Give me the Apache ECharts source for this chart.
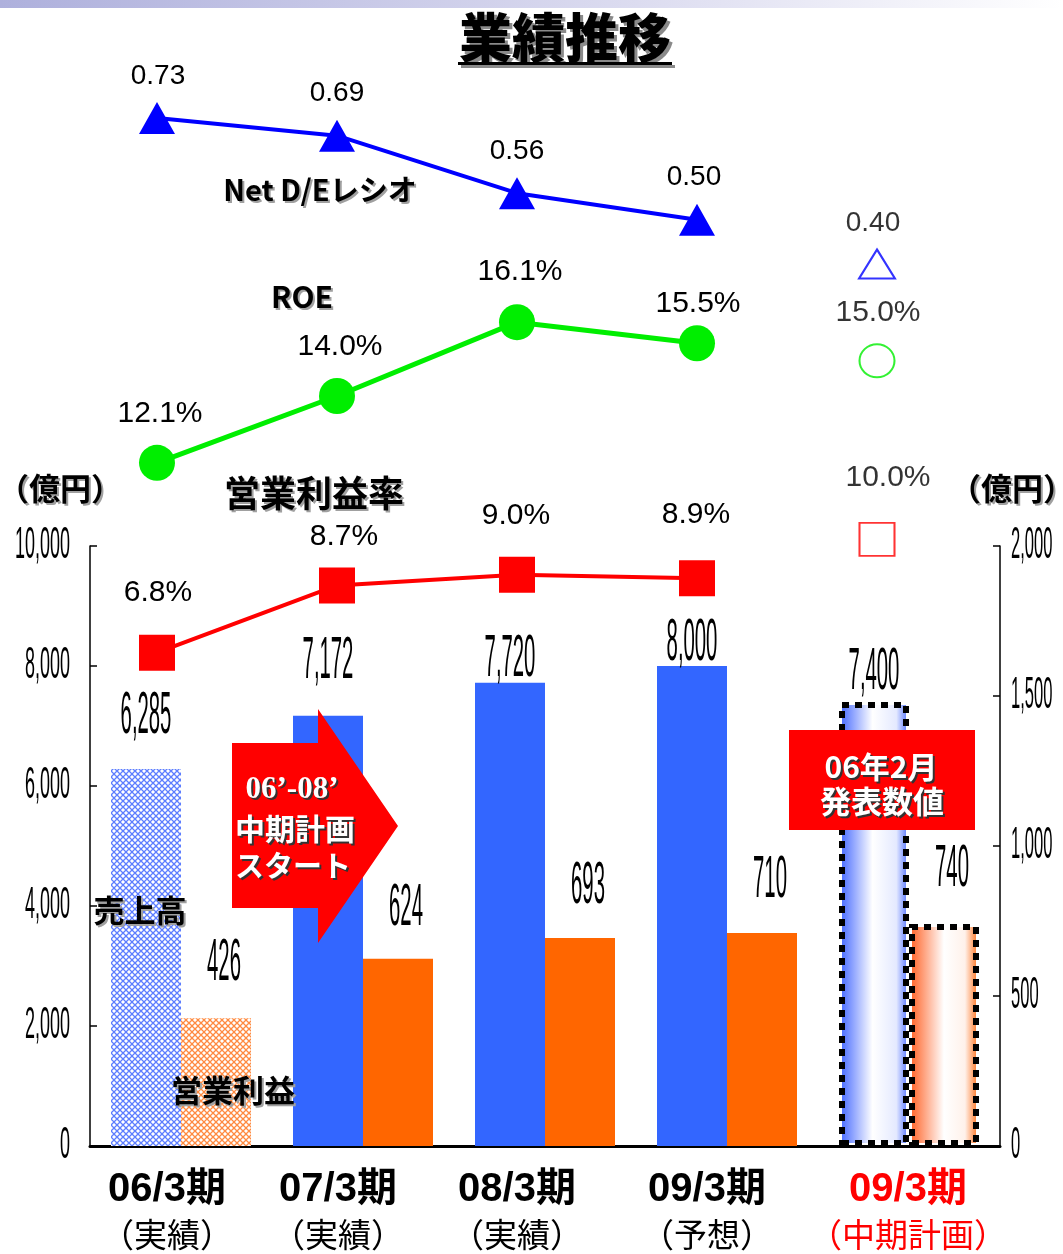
<!DOCTYPE html>
<html>
<head>
<meta charset="utf-8">
<script src="https://cdn.jsdelivr.net/npm/echarts@6/dist/echarts.min.js"></script>
<style>
html, body { margin: 0; padding: 0; background: #fff; }
#main { width: 1063px; height: 1254px; }
</style>
</head>
<body>
<div id="main"></div>
<script>
// ---- data (億円 / ratio / %) ----
const periods = ['06/3期', '07/3期', '08/3期', '09/3期', '09/3期'];
const periodNotes = ['（実績）', '（実績）', '（実績）', '（予想）', '（中期計画）'];
const sales = [6285, 7172, 7720, 8000, 7400];          // 売上高, left axis
const operatingProfit = [426, 624, 693, 710, 740];     // 営業利益, right axis
const netDE = [0.73, 0.69, 0.56, 0.50, 0.40];          // Net D/Eレシオ
const roe = [12.1, 14.0, 16.1, 15.5, 15.0];            // ROE %
const opMargin = [6.8, 8.7, 9.0, 8.9, 10.0];           // 営業利益率 %
const salesTicks = [0, 2000, 4000, 6000, 8000, 10000];
const profitTicks = [0, 500, 1000, 1500, 2000];
const PLAN = 4; // the last period is the mid-term plan figure

// ---- layout helpers ----
const BAR_W = 70;
const LINE_GRID = { left: 67, right: 96, outerBoundsMode: 'none' };
// label nudges [dx, dy] relative to each marker centre
const deShift = [[1, -42], [0, -42], [0, -42], [-3, -42], [-4, -41]];
const roeShift = [[3, -49], [3, -49], [3, -50], [1, -40], [1, -48]];
const marginShift = [[1, -60], [7, -49], [-1, -59], [-1, -64], [11, -62]];
// value-label lift above bar tops
const salesLift = [52, 54, 23, 23, 30];
const profitLift = [55, 50, 52, 53, 55];
// category label horizontal nudge (px, negative = left)
const catShift = [-14, -25, -28, -20, -1];

const JP = '"Noto Sans CJK JP", "Noto Sans", sans-serif';
const NARROW = '"Liberation Sans Narrow", "Liberation Sans", Arial, sans-serif';

function hatch(color) {
  const c = document.createElement('canvas');
  c.width = 6; c.height = 6;
  const g = c.getContext('2d');
  g.fillStyle = '#ffffff';
  g.fillRect(0, 0, 6, 6);
  g.strokeStyle = color;
  g.lineWidth = 1.3;
  g.beginPath();
  g.moveTo(0, 0); g.lineTo(6, 6);
  g.moveTo(6, 0); g.lineTo(0, 6);
  g.stroke();
  return c;
}

function hGradient(stops) {
  return { type: 'linear', x: 0, y: 0, x2: 1, y2: 0,
    colorStops: stops.map(s => ({ offset: s[0], color: s[1] })) };
}

const planBorder = { borderColor: '#000', borderWidth: 6, borderType: [7, 6] };

const salesData = sales.map((v, i) => {
  if (i === 0) return { value: v, itemStyle: { color: { image: hatch('#5c7dff'), repeat: 'repeat' } } };
  if (i === PLAN) return { value: v, itemStyle: Object.assign({
    color: hGradient([[0, '#3e63ff'], [0.48, '#ffffff'], [0.82, '#e4e9ff'], [1, '#4a6cff']]) }, planBorder) };
  return v;
});
const profitData = operatingProfit.map((v, i) => {
  if (i === 0) return { value: v, itemStyle: { color: { image: hatch('#ff8a40'), repeat: 'repeat' } } };
  if (i === PLAN) return { value: v, itemStyle: Object.assign({
    color: hGradient([[0, '#ff5c1e'], [0.5, '#ffffff'], [0.8, '#fff1ea'], [1, '#ff6a10']]) }, planBorder) };
  return v;
});

function lineData(arr, shifts, plan) {
  return arr.map((v, i) => ((i === PLAN) !== plan) ? '-' : { value: v, label: { offset: shifts[i] } });
}

const valueLabel = (fmt, size) => ({
  show: true, position: 'inside', color: '#000',
  fontFamily: '"Liberation Sans", Arial, sans-serif', fontSize: size,
  formatter: p => fmt(p.value)
});
const fmtDE = v => v.toFixed(2);
const fmtPct = v => v.toFixed(1) + '%';

const richCat = {};
periods.forEach((p, i) => {
  const col = i === PLAN ? '#ff0000' : '#000000';
  const pad = catShift[i] < 0 ? [0, -2 * catShift[i], 0, 0] : [0, 0, 0, 2 * catShift[i]];
  richCat['h' + i] = { fontFamily: NARROW + ', ' + JP, fontWeight: 'bold', fontSize: 40, lineHeight: 45,
    color: col, padding: pad, textShadowColor: 'rgba(0,0,0,0.25)', textShadowOffsetX: 2, textShadowOffsetY: 2 };
  richCat['s' + i] = { fontFamily: JP, fontSize: 33, lineHeight: 45, color: col, padding: pad,
    textShadowColor: 'rgba(0,0,0,0.2)', textShadowOffsetX: 2, textShadowOffsetY: 2 };
});

const hiddenCat = gi => ({ type: 'category', gridIndex: gi, data: periods, show: false, boundaryGap: true });
const hiddenVal = (gi, min, max) => ({ type: 'value', gridIndex: gi, min, max, show: false, splitLine: { show: false } });

const axisBlack = { show: true, lineStyle: { color: '#000', width: 1.5 } };
const tickIn = { show: true, inside: true, length: 7, lineStyle: { color: '#000', width: 1.5 } };

const option = {
  backgroundColor: '#ffffff',
  animation: false,
  grid: [
    { left: 90, right: 63, top: 546, height: 600, outerBoundsMode: 'none' },
    Object.assign({ top: 87, height: 177 }, LINE_GRID),
    Object.assign({ top: 290.5, height: 211 }, LINE_GRID),
    Object.assign({ top: 504, height: 177 }, LINE_GRID)
  ],
  xAxis: [
    { type: 'category', gridIndex: 0, data: periods,
      axisLine: { show: true, lineStyle: { color: '#000', width: 3 } },
      axisTick: { show: false },
      axisLabel: { interval: 0, margin: 21,
        formatter: (v, i) => `{h${i}|${periods[i]}}\n{s${i}|${periodNotes[i]}}`, rich: richCat } },
    hiddenCat(1), hiddenCat(2), hiddenCat(3)
  ],
  yAxis: [
    { type: 'value', gridIndex: 0, min: 0, max: 10000, interval: 2000,
      axisLine: axisBlack, axisTick: tickIn, axisLabel: { show: false }, splitLine: { show: false } },
    { type: 'value', gridIndex: 0, position: 'right', min: 0, max: 2000, interval: 500,
      axisLine: axisBlack, axisTick: tickIn, axisLabel: { show: false }, splitLine: { show: false } },
    hiddenVal(1, 0.4, 0.8),
    hiddenVal(2, 11, 17),
    hiddenVal(3, 6, 11)
  ],
  series: [
    { type: 'bar', name: '売上高', xAxisIndex: 0, yAxisIndex: 0, barWidth: BAR_W, barGap: '0%',
      itemStyle: { color: '#3366ff' }, data: salesData, silent: true, z: 2 },
    { type: 'bar', name: '営業利益', xAxisIndex: 0, yAxisIndex: 1, barWidth: BAR_W, barGap: '0%',
      itemStyle: { color: '#ff6600' }, data: profitData, silent: true, z: 2 },

    { type: 'line', name: 'Net D/Eレシオ', xAxisIndex: 1, yAxisIndex: 2, data: lineData(netDE, deShift, false),
      symbol: 'triangle', symbolSize: [36, 32], lineStyle: { color: '#0000ff', width: 4 },
      itemStyle: { color: '#0000ff' }, label: valueLabel(fmtDE, 28), silent: true, z: 5 },
    { type: 'scatter', xAxisIndex: 1, yAxisIndex: 2, data: lineData(netDE, deShift, true),
      symbol: 'triangle', symbolSize: [36, 29],
      itemStyle: { color: '#ffffff', borderColor: '#0000ff', borderWidth: 2 },
      label: valueLabel(fmtDE, 28), silent: true, z: 5 },

    { type: 'line', name: 'ROE', xAxisIndex: 2, yAxisIndex: 3, data: lineData(roe, roeShift, false),
      symbol: 'circle', symbolSize: 36, lineStyle: { color: '#00ee00', width: 5 },
      itemStyle: { color: '#00ee00' }, label: valueLabel(fmtPct, 30), silent: true, z: 5 },
    { type: 'scatter', xAxisIndex: 2, yAxisIndex: 3, data: lineData(roe, roeShift, true),
      symbol: 'circle', symbolSize: [35, 33],
      itemStyle: { color: '#ffffff', borderColor: '#00ee00', borderWidth: 2 },
      label: valueLabel(fmtPct, 30), silent: true, z: 5 },

    { type: 'line', name: '営業利益率', xAxisIndex: 3, yAxisIndex: 4, data: lineData(opMargin, marginShift, false),
      symbol: 'rect', symbolSize: 36, lineStyle: { color: '#ff0000', width: 4 },
      itemStyle: { color: '#ff0000' }, label: valueLabel(fmtPct, 30), silent: true, z: 5 },
    { type: 'scatter', xAxisIndex: 3, yAxisIndex: 4, data: lineData(opMargin, marginShift, true),
      symbol: 'rect', symbolSize: [35, 33],
      itemStyle: { color: '#ffffff', borderColor: '#ff0000', borderWidth: 2 },
      label: valueLabel(fmtPct, 30), silent: true, z: 5 }
  ]
};

const chart = echarts.init(document.getElementById('main'), null, { renderer: 'canvas' });
chart.setOption(option);

// ---- overlay texts and shapes ----
function text(x, y, str, font, fill, extra) {
  return Object.assign({ type: 'text', x, y, z: 40, silent: true,
    style: { text: str, font, fill, align: 'center', textAlign: 'center',
      verticalAlign: 'middle', textVerticalAlign: 'middle' } }, extra || {});
}
// text with a hard offset shadow underneath
function shadowed(x, y, str, font, fill, shadow, d, extra) {
  const s = text(x + d, y + d, str, font, shadow, extra);
  s.z = 39;
  return [s, text(x, y, str, font, fill, extra)];
}

// condensed numerals: scale the glyphs horizontally to a target digit width
const meas = document.createElement('canvas').getContext('2d');
function condensed(x, y, str, size, digitW, align) {
  const font = `${size}px ${NARROW}`;
  meas.font = font;
  const sx = digitW / meas.measureText('0').width;
  return { type: 'text', x, y, z: 40, silent: true, scaleX: sx,
    style: { text: str, font, fill: '#000', align, textAlign: align,
      verticalAlign: 'middle', textVerticalAlign: 'middle' } };
}
const fmtNum = v => v.toLocaleString('en-US');

const g = [];

// top band
g.push({ type: 'rect', z: 1, silent: true, shape: { x: 0, y: 0, width: 1063, height: 8 },
  style: { fill: hGradient([[0, '#aeb0dc'], [0.6, '#dcdcf0'], [1, '#ffffff']]) } });

// title
g.push(...shadowed(565, 38, '業績推移', `900 53px ${JP}`, '#000', '#8a8a8a', 3));
g.push({ type: 'rect', z: 39, silent: true, shape: { x: 461, y: 65, width: 214, height: 3 }, style: { fill: '#8a8a8a' } });
g.push({ type: 'rect', z: 40, silent: true, shape: { x: 458, y: 62, width: 214, height: 3 }, style: { fill: '#000' } });

// series names
g.push(...shadowed(320, 190, 'Net D/Eレシオ', `bold 29px ${JP}`, '#000', '#a0a0a0', 2));
g.push(...shadowed(302, 297, 'ROE', `bold 30px ${JP}`, '#000', '#a0a0a0', 2));
g.push(...shadowed(314, 493, '営業利益率', `bold 36px ${JP}`, '#000', '#a0a0a0', 2));
g.push(...shadowed(60, 488, '（億円）', `bold 31px ${JP}`, '#000', '#a0a0a0', 2));
g.push(...shadowed(1012, 488, '（億円）', `bold 31px ${JP}`, '#000', '#a0a0a0', 2));
g.push(...shadowed(140, 910, '売上高', `bold 31px ${JP}`, '#000', '#a0a0a0', 2));
g.push(...shadowed(233, 1090, '営業利益', `bold 31px ${JP}`, '#000', '#a0a0a0', 2));

// mid-term plan arrow
g.push({ type: 'polygon', z: 30, silent: true,
  shape: { points: [[232, 743], [318, 743], [318, 709], [398, 826], [318, 943], [318, 908], [232, 908]] },
  style: { fill: '#ff0000' } });
g.push(...shadowed(292, 790, '06’-08’', 'bold 31px "Liberation Serif", "DejaVu Serif", serif', '#fff', '#333', 2));
g.push(...shadowed(295, 829, '中期計画', `bold 30px ${JP}`, '#fff', '#333', 2));
g.push(...shadowed(293, 866, 'スタート', `bold 29px ${JP}`, '#fff', '#333', 2));

// announcement box
g.push({ type: 'rect', z: 30, silent: true, shape: { x: 789, y: 730, width: 186, height: 100 },
  style: { fill: '#ff0000' } });
g.push(...shadowed(881, 767, '06年2月', `bold 30px ${JP}`, '#fff', '#333', 2));
g.push(...shadowed(882, 801, '発表数値', `bold 31px ${JP}`, '#fff', '#333', 2));

// axis tick labels
salesTicks.forEach(v => {
  const y = chart.convertToPixel({ yAxisIndex: 0 }, v);
  g.push(condensed(70, y, fmtNum(v), 44, 10, 'right'));
});
profitTicks.forEach(v => {
  const y = chart.convertToPixel({ yAxisIndex: 1 }, v);
  g.push(condensed(1011, y, fmtNum(v), 44, 9.2, 'left'));
});

// bar value labels
sales.forEach((v, i) => {
  const p = chart.convertToPixel({ seriesIndex: 0 }, [i, v]);
  g.push(condensed(p[0] - BAR_W / 2, p[1] - salesLift[i], fmtNum(v), 60, 11.3, 'center'));
});
operatingProfit.forEach((v, i) => {
  const p = chart.convertToPixel({ seriesIndex: 1 }, [i, v]);
  g.push(condensed(p[0] + BAR_W / 2 + 8, p[1] - profitLift[i], fmtNum(v), 60, 11.3, 'center'));
});

chart.setOption({ graphic: { elements: g } });
</script>
</body>
</html>
